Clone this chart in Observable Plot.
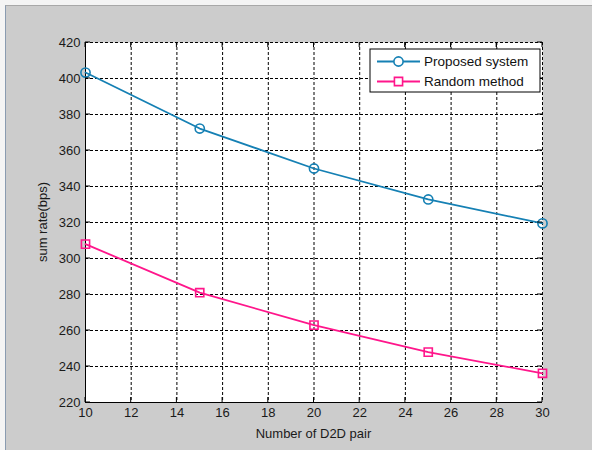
<!DOCTYPE html>
<html>
<head>
<meta charset="utf-8">
<script src="https://cdn.jsdelivr.net/npm/d3@7"></script>
<script src="https://cdn.jsdelivr.net/npm/@observablehq/plot@0.6"></script>
<style>
  html, body { margin: 0; padding: 0; width: 592px; height: 450px; overflow: hidden; background: #f4f4f4; }
  #fig { position: absolute; left: 5px; top: 5px; right: 0; bottom: 0; background: #cccccc;
         border-top: 1px solid #a8a8a8; border-left: 1px solid #8a9bb0; }
  #chart { position: absolute; left: 0; top: 0; }
</style>
</head>
<body>
<div id="fig"></div>
<div id="chart"></div>
<script>
// ---- data ----
const pairCounts = [10, 15, 20, 25, 30];
const proposedSystem = [403.3, 372.2, 350, 332.8, 319.5];
const randomMethod = [308, 281, 263, 248, 236.2];
const seriesNames = ["Proposed system", "Random method"];
const xTicks = [10, 12, 14, 16, 18, 20, 22, 24, 26, 28, 30];
const yTicks = [220, 240, 260, 280, 300, 320, 340, 360, 380, 400, 420];
const xLabel = "Number of D2D pair";
const yLabel = "sum rate(bps)";

const colors = ["#1580b4", "#ff168b"];
const symbols = ["circle", "square"];

const rows = [];
pairCounts.forEach((x, i) => {
  rows.push({series: seriesNames[0], x, y: proposedSystem[i]});
  rows.push({series: seriesNames[1], x, y: randomMethod[i]});
});
const s0 = rows.filter(d => d.series === seriesNames[0]);
const s1 = rows.filter(d => d.series === seriesNames[1]);

const font = "'Liberation Sans', Arial, Helvetica, sans-serif";
const gridStyle = {stroke: "#000", strokeOpacity: 1, strokeWidth: 1, strokeDasharray: "3,2"};

const plot = Plot.plot({
  width: 592,
  height: 450,
  marginLeft: 85,
  marginRight: 50,
  marginTop: 42,
  marginBottom: 48,
  x: {domain: [10, 30]},
  y: {domain: [220, 420]},
  style: {background: "transparent", fontFamily: font, fontSize: "13px", color: "#1a1a1a", overflow: "visible"},
  marks: [
    Plot.frame({fill: "white", stroke: "none"}),
    Plot.gridX(xTicks, gridStyle),
    Plot.gridY(yTicks, gridStyle),
    Plot.ruleX([10], {stroke: "#000", strokeWidth: 1}),
    Plot.ruleY([220], {stroke: "#000", strokeWidth: 1}),
    Plot.axisX(xTicks, {tickSize: 0, tickPadding: 5, label: null, fontSize: 13}),
    Plot.axisY(yTicks, {tickSize: 0, tickPadding: 5, label: null, fontSize: 13}),
    Plot.line(s0, {x: "x", y: "y", stroke: colors[0], strokeWidth: 1.8}),
    Plot.line(s1, {x: "x", y: "y", stroke: colors[1], strokeWidth: 1.8}),
    Plot.dot(s0, {x: "x", y: "y", r: 4.6, symbol: symbols[0], stroke: colors[0], strokeWidth: 1.6, fill: "none"}),
    Plot.dot(s1, {x: "x", y: "y", r: 4.6, symbol: symbols[1], stroke: colors[1], strokeWidth: 1.6, fill: "none"})
  ]
});
document.getElementById("chart").appendChild(plot);

// ---- post-render: legend, inward ticks, axis labels ----
(function () {
  const sx = plot.scale("x"), sy = plot.scale("y");
  const svg = d3.select(plot);
  const pl = sx.apply(10), pr = sx.apply(30), pt = sy.apply(420), pb = sy.apply(220);

  // inward ticks (MATLAB style)
  const tk = svg.append("g").attr("stroke", "#000").attr("stroke-width", 1);
  xTicks.forEach(v => {
    const x = sx.apply(v);
    tk.append("line").attr("x1", x).attr("x2", x).attr("y1", pb).attr("y2", pb - 5);
    tk.append("line").attr("x1", x).attr("x2", x).attr("y1", pt).attr("y2", pt + 5);
  });
  yTicks.forEach(v => {
    const y = sy.apply(v);
    tk.append("line").attr("x1", pl).attr("x2", pl + 5).attr("y1", y).attr("y2", y);
    tk.append("line").attr("x1", pr).attr("x2", pr - 5).attr("y1", y).attr("y2", y);
  });

  // legend
  const lg = svg.append("g").attr("font-family", font).attr("font-size", 13.5).attr("text-anchor", "start");
  const lx = 370, ly = 49, lw = 170, lh = 43;
  lg.append("rect").attr("x", lx).attr("y", ly).attr("width", lw).attr("height", lh)
    .attr("fill", "white").attr("stroke", "#000").attr("stroke-width", 1);
  seriesNames.forEach((name, i) => {
    const cy = ly + 12.5 + i * 20;
    lg.append("line").attr("x1", lx + 7).attr("x2", lx + 50).attr("y1", cy).attr("y2", cy)
      .attr("stroke", colors[i]).attr("stroke-width", 1.8);
    const sym = d3.symbol(symbols[i] === "circle" ? d3.symbolCircle : d3.symbolSquare, 4.6 * 4.6 * Math.PI);
    lg.append("path").attr("d", sym()).attr("transform", `translate(${lx + 28.5},${cy})`)
      .attr("fill", "white").attr("stroke", colors[i]).attr("stroke-width", 1.6);
    lg.append("text").attr("x", lx + 54).attr("y", cy).attr("dy", "0.36em")
      .attr("text-anchor", "start").attr("fill", "#111").text(name);
  });

  // top-edge ticks visible over the legend
  xTicks.forEach(v => {
    const x = sx.apply(v);
    if (x > lx && x < lx + lw) {
      svg.append("line").attr("x1", x).attr("x2", x).attr("y1", pt).attr("y2", pt + 5)
        .attr("stroke", "#000").attr("stroke-width", 1);
    }
  });

  // axis labels
  svg.append("text").attr("x", (pl + pr) / 2).attr("y", 438).attr("text-anchor", "middle")
    .attr("font-family", font).attr("font-size", 13).attr("fill", "#1a1a1a").text(xLabel);
  svg.append("text").attr("transform", `translate(47,${(pt + pb) / 2}) rotate(-90)`)
    .attr("text-anchor", "middle").attr("font-family", font).attr("font-size", 13)
    .attr("fill", "#1a1a1a").text(yLabel);
})();
</script>
</body>
</html>
